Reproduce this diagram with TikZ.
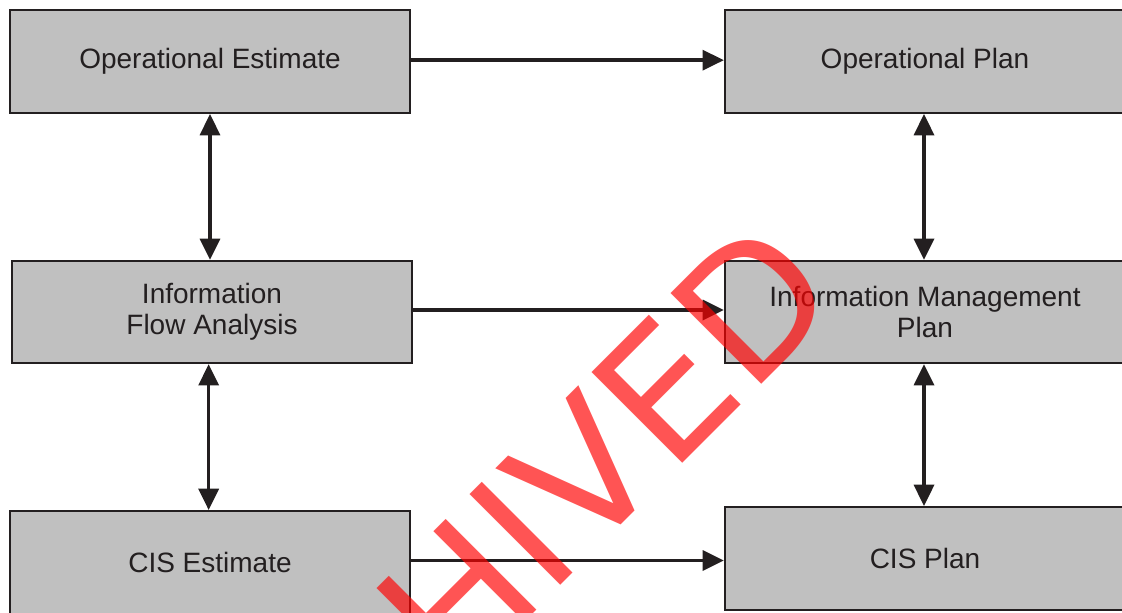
\documentclass[tikz,border=0pt]{standalone}
\usepackage{fontspec}
\setmainfont{Liberation Sans}
\newfontfamily\stampfont{DejaVu Sans}
\usetikzlibrary{arrows.meta}
\definecolor{boxgray}{HTML}{C0C0C0}
\definecolor{ink}{HTML}{231F20}
\definecolor{stampred}{HTML}{FF0000}
\begin{document}
\begin{tikzpicture}[x=0.75pt,y=-0.75pt,
  stepbox/.style={draw=ink, line width=1.7pt, fill=boxgray, text=ink,
    minimum width=300pt, minimum height=77pt, inner sep=0pt, align=center,
    font=\fontsize{21pt}{23pt}\selectfont},
  tip/.style={Triangle[length=16pt,width=15pt]},
  link/.style={draw=ink, line width=2.6pt, -{Triangle[length=16pt,width=15pt]}},
  twoway/.style={draw=ink, line width=2.6pt, {Triangle[length=16pt,width=15pt]}-{Triangle[length=16pt,width=15pt]}}]
\useasboundingbox (0,0) rectangle (1122,612);
\clip (0,0) rectangle (1122,612);

% boxes
\node[stepbox] (oe)   at (210,61.5)  {Operational Estimate};
\node[stepbox] (op)   at (925,61.5)  {Operational Plan};
\node[stepbox, minimum height=76.5pt] (ifa)  at (212,312) {Information\\Flow Analysis};
\node[stepbox, minimum height=76.5pt] (imp)  at (925,312) {Information Management\\Plan};
\node[stepbox] (cise) at (210,562.5) {CIS Estimate};
\node[stepbox] (cisp) at (925,558.5) {CIS Plan};

% left to right
\draw[link] ([yshift=1pt]oe.east) -- ([yshift=1pt]oe.east -| op.west);
\draw[link] ([yshift=1.5pt]ifa.east) -- ([yshift=1.5pt]ifa.east -| imp.west);
\draw[link] ([yshift=1.5pt]cise.east) -- ([yshift=1.5pt]cise.east -| cisp.west);

% up and down
\draw[twoway] (oe.south) -- (oe.south |- ifa.north);
\draw[twoway] ([xshift=-1pt]ifa.south -| oe.south) -- ([xshift=-1pt]cise.north -| oe.south);
\draw[twoway] ([xshift=-0.75pt]op.south) -- ([xshift=-0.75pt]op.south |- imp.north);
\draw[twoway] ([xshift=-0.75pt]imp.south) -- ([xshift=-0.75pt]imp.south |- cisp.north);

% stamp
\node[rotate=45, anchor=base east, inner sep=0pt, text=stampred, text opacity=0.67,
  font=\stampfont\fontsize{132pt}{132pt}\selectfont] (stamp) at (845,301) {ARCHIVED};
\end{tikzpicture}
\end{document}
